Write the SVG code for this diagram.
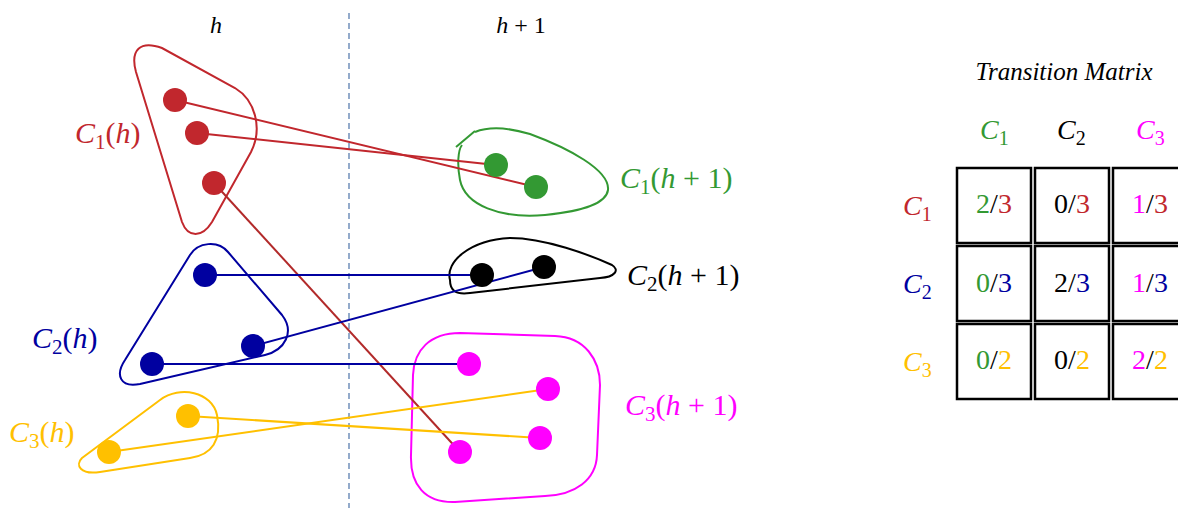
<svg xmlns="http://www.w3.org/2000/svg" width="1178" height="510" viewBox="0 0 1178 510">
<style>
text{font-family:"Liberation Serif","DejaVu Serif",serif}
.lbl{font-size:30px}
.hdr{font-size:28px}
.it{font-style:italic}
.blob{fill:none;stroke-width:2}
.con{fill:none;stroke-width:2}
.cell{fill:none;stroke:#000;stroke-width:2.5}
.num{font-size:28px;text-anchor:middle}
.red{fill:#C1272D}.grn{fill:#339933}.blu{fill:#0000A0}.yel{fill:#FFC000}.mag{fill:#FF00FF}.blk{fill:#000}
</style>
<rect width="1178" height="510" fill="#fff"/>
<line x1="349" y1="13" x2="349" y2="508" stroke="#5B7FB0" stroke-width="1.3" stroke-dasharray="6 4"/>
<text x="216" y="33" font-size="24" class="it" text-anchor="middle">h</text>
<text x="521" y="33" font-size="24" text-anchor="middle"><tspan class="it">h</tspan> + 1</text>

<g id="cluster-C1h">
<path class="blob" stroke="#C1272D" d="M136,72 C130,50 140,40 162,48 L235,88 C255,100 263,128 251,152 L212,222 C202,238 188,238 182,222 Z"/>
<text class="lbl red" x="75" y="143"><tspan class="it">C</tspan><tspan font-size="21" dy="6">1</tspan><tspan dy="-6">(</tspan><tspan class="it">h</tspan>)</text>
</g>
<g id="cluster-C1h1">
<path class="blob" stroke="#339933" d="M475,132 C490,126 510,128 530,134 C568,148 610,170 608,190 C606,205 575,212 545,215 C500,219 465,205 460,180 C457,165 458,150 462,145 M456,147 L475,131"/>
<text class="lbl grn" x="620" y="188"><tspan class="it">C</tspan><tspan font-size="21" dy="6">1</tspan><tspan dy="-6">(</tspan><tspan class="it">h</tspan> + 1)</text>
</g>
<g id="cluster-C2h1">
<path class="blob" stroke="#000" d="M450,280 C445,262 470,240 510,238 C545,238 590,255 612,265 C620,270 615,277 600,278 L470,293 C455,295 450,290 450,280 Z"/>
<text class="lbl blk" x="627" y="285"><tspan class="it">C</tspan><tspan font-size="21" dy="6">2</tspan><tspan dy="-6">(</tspan><tspan class="it">h</tspan> + 1)</text>
</g>
<g id="cluster-C2h">
<path class="blob" stroke="#0000A0" d="M125,360 L190,255 C198,242 218,240 228,252 L282,315 C295,332 285,350 265,355 L140,384 C120,388 115,375 125,360 Z"/>
<text class="lbl blu" x="32" y="348"><tspan class="it">C</tspan><tspan font-size="21" dy="6">2</tspan><tspan dy="-6">(</tspan><tspan class="it">h</tspan>)</text>
</g>
<g id="cluster-C3h">
<path class="blob" stroke="#FFC000" d="M82,458 L160,400 C180,385 212,392 217,415 C222,440 212,455 190,458 L100,472 C80,475 75,465 82,458 Z"/>
<text class="lbl yel" x="9" y="442"><tspan class="it">C</tspan><tspan font-size="21" dy="6">3</tspan><tspan dy="-6">(</tspan><tspan class="it">h</tspan>)</text>
</g>
<g id="cluster-C3h1">
<path class="blob" stroke="#FF00FF" d="M460,333 L555,336 C585,337 600,360 600,385 L597,455 C596,480 575,495 545,496 L455,502 C425,503 410,485 411,455 L413,375 C414,350 430,333 460,333 Z"/>
<text class="lbl mag" x="625" y="415"><tspan class="it">C</tspan><tspan font-size="21" dy="6">3</tspan><tspan dy="-6">(</tspan><tspan class="it">h</tspan> + 1)</text>
</g>

<g id="connectors">
<line class="con" stroke="#C1272D" x1="175" y1="100" x2="536" y2="187"/>
<line class="con" stroke="#C1272D" x1="197" y1="133" x2="496" y2="165"/>
<line class="con" stroke="#B22A2A" x1="214" y1="183" x2="460" y2="452"/>
<line class="con" stroke="#0000A0" x1="205" y1="275" x2="482" y2="275"/>
<line class="con" stroke="#0000A0" x1="253" y1="346" x2="544" y2="267"/>
<line class="con" stroke="#0000A0" x1="152" y1="364" x2="469" y2="364"/>
<line class="con" stroke="#FFC000" x1="188" y1="416" x2="540" y2="438"/>
<line class="con" stroke="#FFC000" x1="109" y1="452" x2="548" y2="389"/>
</g>

<g id="nodes">
<circle class="red" cx="175" cy="100" r="12"/>
<circle class="red" cx="197" cy="133" r="12"/>
<circle class="red" cx="214" cy="183" r="12"/>
<circle class="grn" cx="496" cy="165" r="12"/>
<circle class="grn" cx="536" cy="187" r="12"/>
<circle class="blk" cx="482" cy="275" r="12"/>
<circle class="blk" cx="544" cy="267" r="12"/>
<circle class="blu" cx="205" cy="275" r="12"/>
<circle class="blu" cx="253" cy="346" r="12"/>
<circle class="blu" cx="152" cy="364" r="12"/>
<circle class="yel" cx="188" cy="416" r="12"/>
<circle class="yel" cx="109" cy="452" r="12"/>
<circle class="mag" cx="469" cy="364" r="12"/>
<circle class="mag" cx="548" cy="389" r="12"/>
<circle class="mag" cx="540" cy="438" r="12"/>
<circle class="mag" cx="460" cy="452" r="12"/>
</g>

<g id="matrix">
<text x="1064" y="80" font-size="25" class="it" text-anchor="middle">Transition Matrix</text>
<text class="hdr grn" x="980" y="139"><tspan class="it">C</tspan><tspan font-size="20" dy="6">1</tspan></text>
<text class="hdr blk" x="1057" y="139"><tspan class="it">C</tspan><tspan font-size="20" dy="6">2</tspan></text>
<text class="hdr mag" x="1136" y="139"><tspan class="it">C</tspan><tspan font-size="20" dy="6">3</tspan></text>
<text class="hdr red" x="903" y="215"><tspan class="it">C</tspan><tspan font-size="20" dy="6">1</tspan></text>
<text class="hdr blu" x="903" y="293"><tspan class="it">C</tspan><tspan font-size="20" dy="6">2</tspan></text>
<text class="hdr yel" x="903" y="371"><tspan class="it">C</tspan><tspan font-size="20" dy="6">3</tspan></text>
<rect class="cell" x="957" y="168" width="74" height="75"/>
<rect class="cell" x="1035" y="168" width="74" height="75"/>
<rect class="cell" x="1113" y="168" width="74" height="75"/>
<rect class="cell" x="957" y="246" width="74" height="75"/>
<rect class="cell" x="1035" y="246" width="74" height="75"/>
<rect class="cell" x="1113" y="246" width="74" height="75"/>
<rect class="cell" x="957" y="324" width="74" height="75"/>
<rect class="cell" x="1035" y="324" width="74" height="75"/>
<rect class="cell" x="1113" y="324" width="74" height="75"/>
<text class="num" x="994" y="213"><tspan class="grn">2</tspan>/<tspan class="red">3</tspan></text>
<text class="num" x="1072" y="213">0/<tspan class="red">3</tspan></text>
<text class="num" x="1150" y="213"><tspan class="mag">1</tspan>/<tspan class="red">3</tspan></text>
<text class="num" x="994" y="292"><tspan class="grn">0</tspan>/<tspan class="blu">3</tspan></text>
<text class="num" x="1072" y="292">2/<tspan class="blu">3</tspan></text>
<text class="num" x="1150" y="292"><tspan class="mag">1</tspan>/<tspan class="blu">3</tspan></text>
<text class="num" x="994" y="369"><tspan class="grn">0</tspan>/<tspan class="yel">2</tspan></text>
<text class="num" x="1072" y="369">0/<tspan class="yel">2</tspan></text>
<text class="num" x="1150" y="369"><tspan class="mag">2</tspan>/<tspan class="yel">2</tspan></text>
</g>
</svg>
